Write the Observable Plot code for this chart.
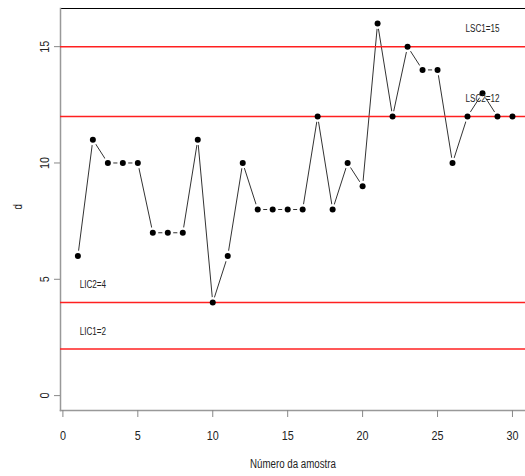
<!DOCTYPE html>
<html>
<head>
<meta charset="utf-8">
<script src="https://cdn.jsdelivr.net/npm/d3@7"></script>
<script src="https://cdn.jsdelivr.net/npm/@observablehq/plot@0.6"></script>
<style>
  html, body { margin: 0; padding: 0; background: #fff; }
  #chart svg { display: block; }
</style>
</head>
<body>
<div id="chart"></div>
<script>
const amostra = [1,2,3,4,5,6,7,8,9,10,11,12,13,14,15,16,17,18,19,20,21,22,23,24,25,26,27,28,29,30];
const d = [6,11,10,10,10,7,7,7,11,4,6,10,8,8,8,8,12,8,10,9,16,12,15,14,14,10,12,13,12,12];
const limites = [15, 12, 4, 2];
const rotulos = ["LSC1=15", "LSC2=12", "LIC2=4", "LIC1=2"];
const rotuloX = [28, 28, 2, 2];
const xTicks = [0, 5, 10, 15, 20, 25, 30];
const yTicks = [0, 5, 10, 15];

const pts = amostra.map((a, i) => ({x: a, y: d[i]}));
const lims = limites.map((v, i) => ({v, label: rotulos[i], lx: rotuloX[i]}));

const font = "'Liberation Sans', Arial, sans-serif";

const chart = Plot.plot({
  width: 525,
  height: 476,
  marginLeft: 60,
  marginRight: 0,
  marginTop: 8,
  marginBottom: 66,
  style: {fontFamily: font, color: "#222", background: "#fff"},
  x: {domain: [-0.16, 30.87], axis: null},
  y: {domain: [-0.64, 16.64], axis: null},
  marks: [
    Plot.frame({anchor: "top", stroke: "#000", strokeWidth: 1}),
    Plot.frame({anchor: "left", stroke: "#999", strokeWidth: 1.5}),
    Plot.frame({anchor: "bottom", stroke: "#999", strokeWidth: 1.5}),
    Plot.axisX({ticks: xTicks, tickSize: 7, tickPadding: 14, label: null, stroke: "#888", fill: "#222", fontSize: 12}),
    Plot.axisY({ticks: yTicks, tickSize: 6, tickPadding: 6, tickRotate: -90, label: null, stroke: "#888", fill: "#222", fontSize: 12}),
    Plot.line(pts, {x: "x", y: "y", stroke: "#333", strokeWidth: 1}),
    Plot.dot(pts, {x: "x", y: "y", r: 5.5, fill: "#fff", stroke: null}),
    Plot.ruleY(lims, {y: "v", stroke: "#ff2020", strokeWidth: 1.5}),
    Plot.dot(pts, {x: "x", y: "y", r: 3, fill: "#000", stroke: null}),
    Plot.text(lims, {x: "lx", y: d => d.v + 0.75, text: "label", fontSize: 10, fill: "#222"}),
    Plot.text(["Número da amostra"], {frameAnchor: "bottom", dy: 57, text: d => d, fontSize: 12, fill: "#222"}),
    Plot.text(["d"], {frameAnchor: "left", dx: -42, rotate: -90, text: d => d, fontSize: 12, fill: "#222"})
  ]
});
document.getElementById("chart").appendChild(chart);

// narrow the glyphs horizontally, as in the reference rendering
d3.select(chart).selectAll("text").each(function () {
  const tick = this.closest("g[aria-label$='tick label']");
  const f = tick ? 0.9 : 0.81;
  const w = this.getComputedTextLength();
  if (w > 0) {
    this.setAttribute("textLength", (w * f).toFixed(2));
    this.setAttribute("lengthAdjust", "spacingAndGlyphs");
  }
});
</script>
</body>
</html>
